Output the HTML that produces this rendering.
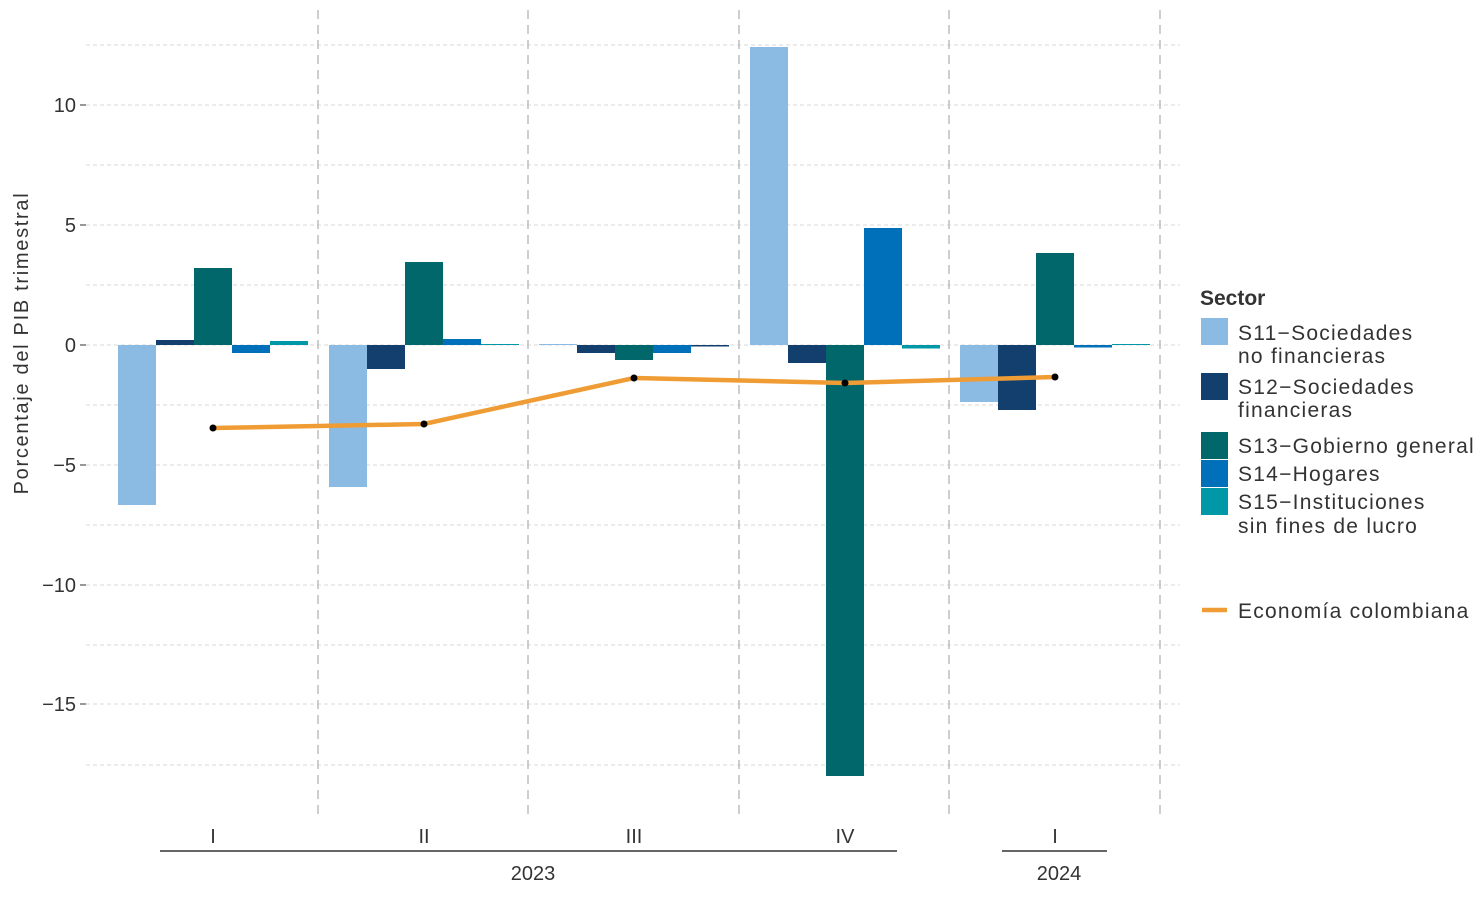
<!DOCTYPE html>
<html><head><meta charset="utf-8"><style>
html,body{margin:0;padding:0;background:#fff;}
svg{display:block;font-family:"Liberation Sans",sans-serif;}
</style></head><body>
<svg width="1480" height="897" viewBox="0 0 1480 897" xmlns="http://www.w3.org/2000/svg">
<g stroke="#d9d9d9" stroke-width="1" stroke-dasharray="4,3">
<line x1="86" x2="1180" y1="45" y2="45"/><line x1="86" x2="1180" y1="105" y2="105"/>
<line x1="86" x2="1180" y1="165" y2="165"/><line x1="86" x2="1180" y1="225" y2="225"/>
<line x1="86" x2="1180" y1="285" y2="285"/><line x1="86" x2="1180" y1="345" y2="345"/>
<line x1="86" x2="1180" y1="405" y2="405"/><line x1="86" x2="1180" y1="465" y2="465"/>
<line x1="86" x2="1180" y1="525" y2="525"/><line x1="86" x2="1180" y1="585" y2="585"/>
<line x1="86" x2="1180" y1="645" y2="645"/><line x1="86" x2="1180" y1="704" y2="704"/>
<line x1="86" x2="1180" y1="765" y2="765"/>
</g>
<g stroke="#bdbdbd" stroke-width="1.5" stroke-dasharray="9,6">
<line x1="318" x2="318" y1="10" y2="815"/><line x1="528" x2="528" y1="10" y2="815"/>
<line x1="739" x2="739" y1="10" y2="815"/><line x1="949" x2="949" y1="10" y2="815"/>
<line x1="1160" x2="1160" y1="10" y2="815"/>
</g>
<g>
<rect x="118" y="345" width="38" height="160" fill="#8BBBE3"/>
<rect x="156" y="340" width="38" height="5" fill="#123F6E"/>
<rect x="194" y="268" width="38" height="77" fill="#02676A"/>
<rect x="232" y="345" width="38" height="8" fill="#0070BA"/>
<rect x="270" y="341" width="38" height="4" fill="#0097A7"/>
<rect x="329" y="345" width="38" height="142" fill="#8BBBE3"/>
<rect x="367" y="345" width="38" height="24" fill="#123F6E"/>
<rect x="405" y="262" width="38" height="83" fill="#02676A"/>
<rect x="443" y="339" width="38" height="6" fill="#0070BA"/>
<rect x="481" y="344" width="38" height="1" fill="#0097A7"/>
<rect x="539" y="344" width="38" height="1" fill="#8BBBE3"/>
<rect x="577" y="345" width="38" height="8" fill="#123F6E"/>
<rect x="615" y="345" width="38" height="15" fill="#02676A"/>
<rect x="653" y="345" width="38" height="8" fill="#0070BA"/>
<rect x="691" y="345" width="38" height="1.5" fill="#123F6E"/>
<rect x="750" y="47" width="38" height="298" fill="#8BBBE3"/>
<rect x="788" y="345" width="38" height="18" fill="#123F6E"/>
<rect x="826" y="345" width="38" height="431" fill="#02676A"/>
<rect x="864" y="228" width="38" height="117" fill="#0070BA"/>
<rect x="902" y="345" width="38" height="3.5" fill="#0097A7"/>
<rect x="960" y="345" width="38" height="57" fill="#8BBBE3"/>
<rect x="998" y="345" width="38" height="65" fill="#123F6E"/>
<rect x="1036" y="253" width="38" height="92" fill="#02676A"/>
<rect x="1074" y="345" width="38" height="2.5" fill="#0070BA"/>
<rect x="1112" y="344" width="38" height="1" fill="#0097A7"/>
</g>
<polyline points="213,428 424,424 634,378 845,383 1055,377" fill="none" stroke="#F09C34" stroke-width="4.5"/>
<g fill="#000"><circle cx="213" cy="428" r="3.5"/><circle cx="424" cy="424" r="3.5"/><circle cx="634" cy="378" r="3.5"/><circle cx="845" cy="383" r="3.5"/><circle cx="1055" cy="377" r="3.5"/></g>
<g font-size="20" fill="#333" text-anchor="end">
<text x="76" y="112">10</text><text x="76" y="232">5</text><text x="76" y="352">0</text>
<text x="76" y="472">−5</text><text x="76" y="592">−10</text><text x="76" y="711">−15</text>
</g>
<g stroke="#333" stroke-width="1"><line x1="80" x2="86" y1="105" y2="105"/><line x1="80" x2="86" y1="225" y2="225"/><line x1="80" x2="86" y1="345" y2="345"/><line x1="80" x2="86" y1="465" y2="465"/><line x1="80" x2="86" y1="585" y2="585"/><line x1="80" x2="86" y1="704" y2="704"/></g>
<text transform="translate(28,343) rotate(-90)" font-size="20" letter-spacing="1.7" fill="#333" text-anchor="middle">Porcentaje del PIB trimestral</text>
<g font-size="20" fill="#333" text-anchor="middle">
<text x="213" y="843">I</text><text x="424" y="843">II</text><text x="634" y="843">III</text><text x="845" y="843">IV</text><text x="1055" y="843">I</text>
<text x="533" y="880">2023</text><text x="1059" y="880">2024</text>
</g>
<g stroke="#333" stroke-width="1.5"><line x1="160" x2="897" y1="851" y2="851"/><line x1="1002" x2="1107" y1="851" y2="851"/></g>
<text x="1200" y="305" font-size="21" font-weight="bold" fill="#333">Sector</text>
<rect x="1201" y="318" width="27" height="27" fill="#8BBBE3"/>
<rect x="1201" y="373" width="27" height="27" fill="#123F6E"/>
<rect x="1201" y="432" width="27" height="27" fill="#02676A"/>
<rect x="1201" y="460" width="27" height="27" fill="#0070BA"/>
<rect x="1201" y="488" width="27" height="27" fill="#0097A7"/>
<line x1="1202" x2="1227" y1="610" y2="610" stroke="#F09C34" stroke-width="4.5"/>
<g font-size="21" fill="#333" letter-spacing="1.25">
<text x="1238" y="340">S11−Sociedades</text><text x="1238" y="363">no financieras</text>
<text x="1238" y="394">S12−Sociedades</text><text x="1238" y="417">financieras</text>
<text x="1238" y="453">S13−Gobierno general</text>
<text x="1238" y="481">S14−Hogares</text>
<text x="1238" y="509">S15−Instituciones</text><text x="1238" y="533">sin fines de lucro</text>
<text x="1238" y="618">Economía colombiana</text>
</g>
</svg>
</body></html>
